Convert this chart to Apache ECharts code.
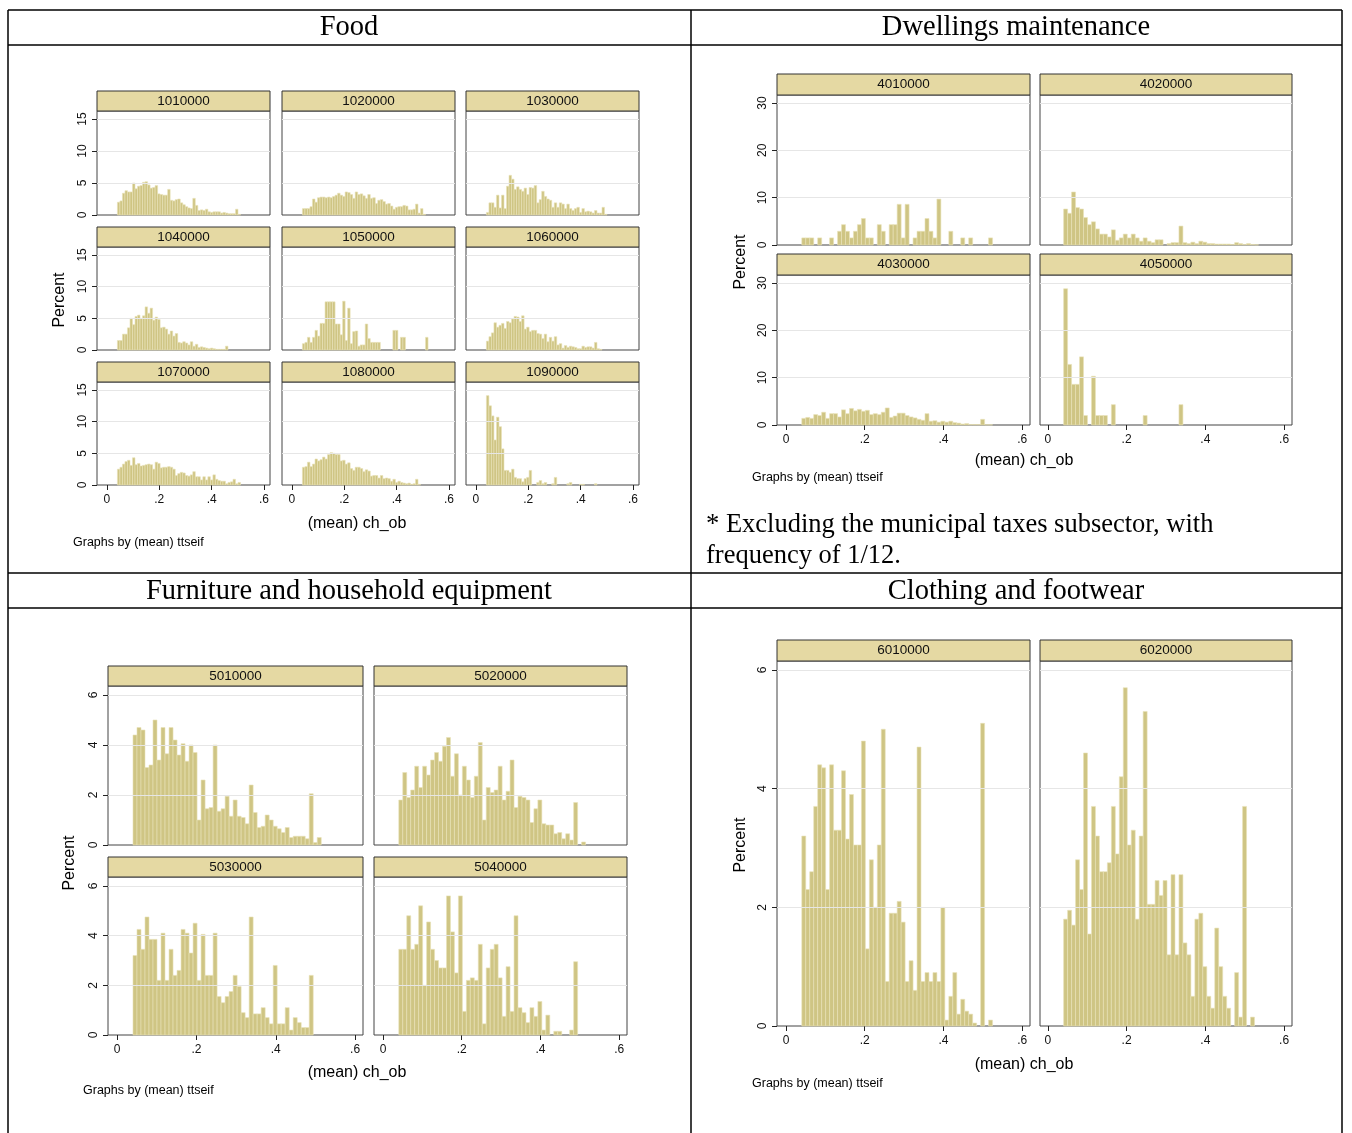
<!DOCTYPE html>
<html><head><meta charset="utf-8">
<script src="https://cdn.jsdelivr.net/npm/echarts@6/dist/echarts.min.js"></script>
<style>html,body{margin:0;padding:0;background:#fff}#c{width:1352px;height:1133px}</style>
</head><body><div id="c"></div>
<script>
// bin start and width (share of ch_ob) for every histogram
var binStart = 0.04;
var foodBin = 0.0096;
var bin = 0.0101;

// Food
var f1010000 = [2.0,2.2,3.4,3.8,3.6,3.6,5.0,4.1,4.5,4.6,5.1,5.2,4.7,4.2,4.3,4.6,3.3,3.2,3.1,3.1,4.0,2.3,2.2,2.4,2.5,1.9,1.6,1.3,1.1,1.0,2.6,1.5,0.7,0.8,0.7,0.9,0.5,0.4,0.5,0.5,0.5,0.3,0.4,0.3,0.2,0.2,0.2,0.9,0.1];
var f1020000 = [1.0,1.0,1.0,1.3,2.5,2.0,2.7,2.8,2.8,2.7,2.8,2.7,2.9,3.1,3.4,3.1,2.9,3.6,3.5,3.2,2.6,3.6,3.2,3.3,3.0,2.6,3.2,2.6,2.7,1.8,2.3,2.4,2.1,1.7,1.8,1.4,0.9,1.2,1.3,1.3,1.5,1.4,0.8,0.8,0.9,1.7,0.3,1.0,0.1];
var f1030000 = [0.4,1.9,1.9,1.2,3.1,1.1,3.1,1.0,4.5,6.2,5.6,4.0,4.4,4.0,3.7,4.2,3.2,4.3,4.2,4.6,1.9,2.4,3.7,2.9,2.5,2.3,1.2,1.9,1.2,1.9,1.7,1.0,1.7,1.0,0.7,1.0,1.2,0.4,1.0,0.5,0.6,0.5,0.3,0.7,0.3,0.3,1.2,0.1];
var f1040000 = [1.5,1.5,2.5,2.5,3.5,5.0,4.0,5.3,5.5,5.0,5.4,6.8,5.8,6.6,4.7,5.2,4.8,3.5,3.6,3.3,2.5,3.0,2.2,2.6,1.2,1.1,1.3,1.1,0.8,1.3,0.6,0.9,0.4,0.5,0.4,0.3,0.2,0.3,0.2,0.1,0.1,0.1,0.1,0.6];
var f1050000 = [1.0,1.2,2.0,1.2,2.0,3.1,2.2,4.2,4.2,7.6,7.6,7.6,7.6,4.1,4.1,2.4,7.7,1.5,6.6,1.0,2.9,3.0,0.6,0.8,0.8,4.1,1.8,1.2,1.2,1.2,1.2,0,0,0,0,0,3.1,3.1,0,2.0,2.0,0,0,0,0,0,0,0,0,2.0];
var f1060000 = [1.4,2.1,2.7,4.3,3.6,3.9,4.2,3.4,4.5,4.3,4.9,5.3,5.2,4.5,5.4,3.3,3.6,2.9,3.1,3.1,2.6,2.5,1.8,2.5,1.3,2.0,1.4,2.1,0.8,1.0,0.3,0.7,0.4,0.6,0.5,0.4,0.2,0.2,0.6,0.4,0.5,0.5,0.3,1.2,0.2,0.1];
var f1070000 = [2.5,2.8,3.3,3.7,3.9,3.1,4.3,3.2,3.4,3.0,3.1,3.2,3.3,3.2,2.5,3.6,3.4,2.7,2.8,2.8,2.9,2.8,2.5,1.5,1.8,2.0,1.9,1.5,1.4,1.6,2.1,1.3,1.3,0.8,1.3,0.8,1.3,0.8,1.6,0.9,0.7,0.6,0.6,0.2,0.4,0.5,0.9,0.2,0.4];
var f1080000 = [2.8,2.9,3.6,2.9,3.3,4.1,3.8,4.0,4.4,4.1,4.8,5.1,5.0,4.8,4.8,3.8,3.9,3.3,3.5,2.6,2.3,2.8,2.8,2.6,2.1,2.4,2.2,1.4,1.5,1.5,1.1,1.5,1.0,1.1,1.0,0.6,0.9,0.4,0.6,0.4,0.3,0.2,0.3,0.1,0.2,0.9,0.1];
var f1090000 = [14.1,12.5,10.9,7.1,10.7,9.2,5.7,2.3,2.3,2.0,2.5,1.2,1.0,1.0,0.5,1.0,1.2,2.3,0,0,0.4,0.7,0.2,0.4,0,0,0.2,1.2,0,0,0,0,0.2,0.4,0,0,0,0.1,0.1,0,0,0,0,0.2];

// Dwellings maintenance
var d4010000 = [1.5,1.5,1.5,0,1.5,0,0,1.5,0,2.9,4.3,2.9,1.5,2.9,4.3,5.6,1.5,1.5,0,4.3,2.9,0,4.3,4.3,8.6,1.5,8.6,0,1.5,2.9,2.9,5.6,2.9,1.5,9.7,0,0,2.9,0,0,1.5,0,1.5,0,0,0,0,1.5];
var d4020000 = [7.6,6.7,11.2,7.9,7.6,5.8,4.3,4.9,3.4,2.3,2.3,1.7,3.2,1.0,1.5,2.3,1.5,2.3,1.5,0.8,1.5,0.8,0.5,1.1,1.1,0,0.3,0.5,0.5,4.0,0.5,0.3,0.6,0.3,0.8,0.6,0.3,0.3,0.2,0.2,0.2,0.2,0.1,0.5,0.3,0.1,0.3,0.1,0.05];
var d4030000 = [1.4,1.6,1.4,2.2,2.0,2.7,1.4,2.4,2.4,1.7,3.2,2.4,3.5,3.0,3.3,2.9,3.1,2.2,2.4,2.2,2.7,3.6,1.6,1.9,2.5,2.5,2.0,1.7,1.5,1.2,1.0,2.4,0.8,0.9,0.6,0.8,0.6,0.8,0.5,0.4,0.2,0.3,0.1,0.1,0.1,1.2,0.05,0.05];
var d4050000 = [28.8,12.8,8.6,8.6,14.4,2.0,0,10.3,2.0,2.0,2.0,0,4.3,0,0,0,0,0,0,0,2.0,0,0,0,0,0,0,0,0,4.3];

// Furniture and household equipment
var h5010000 = [4.4,4.7,4.6,3.1,3.2,5.0,3.4,4.7,3.65,4.7,4.2,3.6,4.05,3.35,4.0,3.7,1.0,2.6,1.45,1.5,4.0,1.35,1.45,1.95,1.15,1.8,1.15,1.1,0.85,2.4,1.3,0.7,0.75,1.2,1.0,0.75,0.65,0.5,0.7,0.3,0.35,0.35,0.35,0.25,2.05,0.1,0.3];
var h5020000 = [1.8,2.9,1.9,2.2,3.15,2.3,3.15,2.8,3.4,3.7,3.35,3.95,4.3,2.75,3.65,2.0,3.15,2.6,1.9,2.75,4.1,1.0,2.3,2.1,2.2,3.15,1.8,2.15,3.4,1.5,1.95,1.9,1.8,0.9,1.45,1.8,0.85,0.8,0.8,0.45,0.5,0.25,0.45,0.2,1.7,0,0.12];
var h5030000 = [3.2,4.25,3.45,4.75,3.85,3.85,2.2,4.1,2.2,3.45,2.4,2.6,4.25,4.1,3.3,4.5,2.2,4.05,2.4,2.4,4.1,1.55,1.3,1.55,1.75,2.4,1.95,0.9,0.7,4.75,0.85,0.85,1.1,0.7,0.45,2.8,0.45,0.45,1.1,0.2,0.7,0.5,0.3,0.3,2.4];
var h5040000 = [3.45,3.45,4.8,3.45,3.65,5.2,2.0,4.55,3.45,3.0,2.7,2.7,5.6,4.15,2.5,5.6,0.95,2.2,2.3,2.2,3.65,0.45,2.7,3.45,3.65,2.3,0.75,2.75,0.95,4.8,1.1,0.9,0.5,1.1,0.75,1.35,0.2,0.8,0,0.15,0.15,0,0,0.2,2.95];

// Clothing and footwear
var c6010000 = [3.2,2.3,2.6,3.7,4.4,4.35,2.3,4.4,3.3,3.3,4.3,3.15,3.9,3.05,3.05,4.8,1.3,2.8,2.0,3.05,5.0,0.75,1.9,1.9,2.1,1.75,0.75,1.1,0.6,4.7,0.75,0.9,0.75,0.9,0.75,2.0,0.1,0.5,0.9,0.2,0.45,0.25,0.2,0.05,0,5.1,0,0.1];
var c6020000 = [1.8,1.95,1.7,2.8,2.3,4.6,1.55,3.7,3.2,2.6,2.6,2.75,3.7,2.9,4.2,5.7,3.05,3.3,1.8,3.2,5.3,2.05,2.05,2.45,2.2,2.45,1.2,2.55,1.2,2.55,1.4,1.2,0.5,1.8,1.9,1.0,0.5,0.3,1.65,1.0,0.5,0.3,0,0.9,0.15,3.7,0,0.15];

var xTicks = [0, 0.2, 0.4, 0.6];
var xTickLabels = ['0', '.2', '.4', '.6'];
var yTicksFood = [0, 5, 10, 15];
var yTicksDwell = [0, 10, 20, 30];
var yTicksSmall = [0, 2, 4, 6];

var SANS = '"Liberation Sans", Arial, sans-serif';
var SERIF = '"Liberation Serif", "Times New Roman", serif';

var grids = [], xAxes = [], yAxes = [], series = [], graphics = [];

// one histogram panel: plot box, strip label on top, bars
function panel(name, vals, w, box, xr, ymax, yTicks, showY, showX, labelDy) {
  var i = grids.length;
  grids.push({left: box[0], top: box[1], width: box[2] - box[0], height: box[3] - box[1],
    show: true, borderColor: '#444', borderWidth: 1, backgroundColor: '#fff'});
  xAxes.push({type: 'value', gridIndex: i, min: xr[0], max: xr[1],
    axisLine: {show: false, onZero: false}, splitLine: {show: false},
    axisTick: {show: showX, customValues: xTicks, length: 5, lineStyle: {color: '#222'}},
    axisLabel: {show: showX, customValues: xTicks, margin: 9, fontFamily: SANS, fontSize: 12, color: '#111',
      formatter: function (v) { var k = xTicks.indexOf(Math.round(v * 10) / 10); return k < 0 ? '' : xTickLabels[k]; }}});
  yAxes.push({type: 'value', gridIndex: i, min: 0, max: ymax,
    axisLine: {show: false, onZero: false},
    splitLine: {show: false},
    axisTick: {show: showY, customValues: yTicks, length: 5, lineStyle: {color: '#222'}},
    axisLabel: {show: showY, customValues: yTicks, rotate: 90, margin: 8, fontFamily: SANS, fontSize: 12, color: '#111'}});
  // horizontal grid lines at the y ticks
  series.push({type: 'line', xAxisIndex: i, yAxisIndex: i, data: [], silent: true,
    markLine: {silent: true, symbol: 'none', label: {show: false},
      lineStyle: {color: '#e6e6e6', width: 1, type: 'solid'},
      data: yTicks.filter(function (t) { return t > 0; }).map(function (t) { return {yAxis: t}; })}});
  var data = vals.map(function (v, k) { return [binStart + k * w, v]; });
  series.push({type: 'custom', xAxisIndex: i, yAxisIndex: i, data: data,
    renderItem: function (params, api) {
      var x0 = api.value(0), h = api.value(1);
      if (!h) return null;
      var p0 = api.coord([x0, 0]), p1 = api.coord([x0 + w, h]);
      return {type: 'rect', shape: {x: p0[0], y: p1[1], width: p1[0] - p0[0], height: p0[1] - p1[1]},
        style: {fill: '#cfc584', stroke: '#e9e3b8', lineWidth: 0.6}};
    }});
  // strip label
  var sh = labelDy;
  graphics.push({type: 'rect', shape: {x: box[0], y: box[1] - sh, width: box[2] - box[0], height: sh},
    style: {fill: '#e5d9a3', stroke: '#333', lineWidth: 1}, z: 10});
  graphics.push({type: 'text', x: (box[0] + box[2]) / 2, y: box[1] - sh / 2,
    style: {text: name, fontFamily: SANS, fontSize: 13.5, fill: '#111', align: 'center', verticalAlign: 'middle'}, z: 11});
}

// Food 3x3
var fNames = ['1010000','1020000','1030000','1040000','1050000','1060000','1070000','1080000','1090000'];
var fVals = [f1010000,f1020000,f1030000,f1040000,f1050000,f1060000,f1070000,f1080000,f1090000];
var fCols = [[97,270],[282,455],[466,639]];
var fRows = [[111,215],[247,350],[382,485]];
for (var k = 0; k < 9; k++) {
  var r = Math.floor(k / 3), c = k % 3;
  panel(fNames[k], fVals[k], foodBin, [fCols[c][0], fRows[r][0], fCols[c][1], fRows[r][1]],
    [-0.038, 0.623], 16.25, yTicksFood, c === 0, r === 2, 20);
}
// Dwellings 2x2
var dNames = ['4010000','4020000','4030000','4050000'];
var dVals = [d4010000,d4020000,d4030000,d4050000];
var dCols = [[777,1030,-0.023],[1040,1292,-0.02]];
var dRows = [[95,245],[275,425]];
for (k = 0; k < 4; k++) {
  r = Math.floor(k / 2); c = k % 2;
  panel(dNames[k], dVals[k], bin, [dCols[c][0], dRows[r][0], dCols[c][1], dRows[r][1]],
    [dCols[c][2], 0.62], 31.7, yTicksDwell, c === 0, r === 1, 21);
}
// Furniture 2x2
var hNames = ['5010000','5020000','5030000','5040000'];
var hVals = [h5010000,h5020000,h5030000,h5040000];
var hCols = [[108,363],[374,627]];
var hRows = [[686,845],[877,1035]];
for (k = 0; k < 4; k++) {
  r = Math.floor(k / 2); c = k % 2;
  panel(hNames[k], hVals[k], bin, [hCols[c][0], hRows[r][0], hCols[c][1], hRows[r][1]],
    [-0.023, 0.62], 6.36, yTicksSmall, c === 0, r === 1, 20);
}
// Clothing 1x2
panel('6010000', c6010000, bin, [777, 661, 1030, 1026], [-0.023, 0.62], 6.15, yTicksSmall, true, true, 21);
panel('6020000', c6020000, bin, [1040, 661, 1292, 1026], [-0.02, 0.62], 6.15, yTicksSmall, false, true, 21);

// table frame
function line(x1, y1, x2, y2) {
  graphics.push({type: 'line', shape: {x1: x1, y1: y1, x2: x2, y2: y2}, style: {stroke: '#000', lineWidth: 1.5}, z: 20});
}
line(8, 10, 1342, 10); line(8, 45, 1342, 45); line(8, 573, 1342, 573); line(8, 608, 1342, 608);
line(8, 10, 8, 1133); line(691, 10, 691, 1133); line(1342, 10, 1342, 1133);

function txt(s, x, y, font, size, align, rot) {
  graphics.push({type: 'text', x: x, y: y, rotation: rot || 0,
    style: {text: s, fontFamily: font, fontSize: size, fill: '#000', align: align || 'center', verticalAlign: 'middle'}, z: 20});
}
txt('Food', 349, 28, SERIF, 28.5);
txt('Dwellings maintenance', 1016, 28, SERIF, 28.5);
txt('Furniture and household equipment', 349, 592, SERIF, 28.5);
txt('Clothing and footwear', 1016, 592, SERIF, 28.5);
txt('* Excluding the municipal taxes subsector, with', 706, 525, SERIF, 26.5, 'left');
txt('frequency of 1/12.', 706, 556, SERIF, 26.5, 'left');

txt('Percent', 60, 300, SANS, 16, 'center', Math.PI / 2);
txt('(mean) ch_ob', 357, 524, SANS, 16);
txt('Graphs by (mean) ttseif', 73, 543, SANS, 12.5, 'left');
txt('Percent', 741, 262, SANS, 16, 'center', Math.PI / 2);
txt('(mean) ch_ob', 1024, 461, SANS, 16);
txt('Graphs by (mean) ttseif', 752, 478, SANS, 12.5, 'left');
txt('Percent', 70, 863, SANS, 16, 'center', Math.PI / 2);
txt('(mean) ch_ob', 357, 1073, SANS, 16);
txt('Graphs by (mean) ttseif', 83, 1091, SANS, 12.5, 'left');
txt('Percent', 741, 845, SANS, 16, 'center', Math.PI / 2);
txt('(mean) ch_ob', 1024, 1065, SANS, 16);
txt('Graphs by (mean) ttseif', 752, 1084, SANS, 12.5, 'left');

var chart = echarts.init(document.getElementById('c'));
chart.setOption({
  animation: false,
  grid: grids, xAxis: xAxes, yAxis: yAxes, series: series,
  graphic: graphics
});
</script></body></html>
